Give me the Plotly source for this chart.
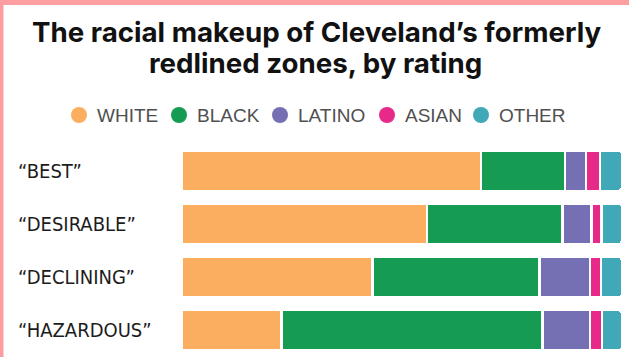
import plotly.graph_objects as go

# ---- data ----
categories = ["“BEST”", "“DESIRABLE”", "“DECLINING”", "“HAZARDOUS”"]
series_names = ["WHITE", "BLACK", "LATINO", "ASIAN", "OTHER"]
white = [68.0, 55.7, 43.3, 22.6]
black = [19.0, 30.8, 38.0, 59.3]
latino = [4.8, 6.6, 11.4, 10.8]
asian = [3.2, 2.2, 2.5, 2.7]
other = [5.0, 4.7, 4.8, 4.6]
title_lines = ["The racial makeup of Cleveland’s formerly", "redlined zones, by rating"]

colors = ["#FCAE60", "#169B53", "#7570B3", "#E7298A", "#41A8B7"]
values = [white, black, latino, asian, other]

W, H = 629, 357
ML, MR, MT, MB = 182, 7, 144, 0
PW, PH = W - ML - MR, H - MT - MB


def xp(px):
    return (px - ML) / PW


def yp(py):
    return (H - py) / PH


fig = go.Figure()
for name, vals, col in zip(series_names, values, colors):
    fig.add_trace(go.Bar(
        y=categories, x=vals, name=name, orientation="h",
        marker=dict(color=col, line=dict(color="white", width=2.5), cornerradius=4),
        showlegend=False, hoverinfo="x+name",
    ))

annotations = []
title_font = dict(family="Inter", size=27.7, color="#111111", weight="bold")
annotations.append(dict(text=title_lines[0], x=xp(316.5), xref="paper", xanchor="center",
                        y=yp(31.5), yref="paper", yanchor="middle", showarrow=False,
                        font=title_font))
annotations.append(dict(text=title_lines[1], x=xp(315), xref="paper", xanchor="center",
                        y=yp(63), yref="paper", yanchor="middle", showarrow=False,
                        font=title_font))

# category labels
for c in categories:
    annotations.append(dict(text=c, x=xp(16), xref="paper", xanchor="left",
                            y=c, yref="y", yanchor="middle", showarrow=False,
                            font=dict(family="DejaVu Sans Condensed", size=20, color="#1c1c1c")))

# legend (circles + text)
legend_text_x = [95, 195, 296, 403, 497]
shapes = []
for name, col, tx in zip(series_names, colors, legend_text_x):
    cx = tx - 16
    shapes.append(dict(type="circle", xref="paper", yref="paper",
                       xsizemode="pixel", ysizemode="pixel",
                       xanchor=xp(cx), yanchor=yp(115),
                       x0=-8, x1=8, y0=-8, y1=8,
                       fillcolor=col, line=dict(width=0)))
    annotations.append(dict(text=name, x=xp(tx), xref="paper", xanchor="left",
                            y=yp(115), yref="paper", yanchor="middle", showarrow=False,
                            font=dict(family="Liberation Sans", size=19, color="#505050")))

# pink frame stripes
shapes.append(dict(type="rect", xref="paper", yref="paper", x0=xp(0), x1=xp(3.5),
                   y0=yp(H), y1=yp(0), fillcolor="#FD9EA1", line=dict(width=0), layer="above"))
shapes.append(dict(type="rect", xref="paper", yref="paper", x0=xp(0), x1=xp(W),
                   y0=yp(5), y1=yp(0), fillcolor="#FD9EA1", line=dict(width=0), layer="above"))

fig.update_layout(
    width=W, height=H,
    margin=dict(l=ML, r=MR, t=MT, b=MB, pad=0),
    barmode="stack", bargap=0.24,
    paper_bgcolor="white", plot_bgcolor="white",
    xaxis=dict(range=[0, 100], visible=False, fixedrange=True),
    yaxis=dict(categoryorder="array", categoryarray=categories, autorange="reversed",
               visible=False, fixedrange=True),
    annotations=annotations, shapes=shapes,
    showlegend=False,
)

fig.write_html(
    "out.html",
    config={"displayModeBar": False},
    post_script="document.body.style.margin='0';document.body.style.overflow='hidden';",
)
